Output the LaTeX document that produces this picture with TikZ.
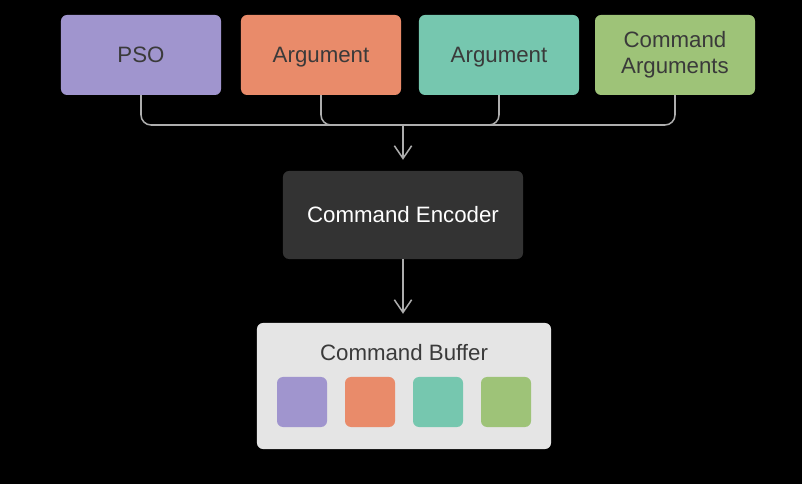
\documentclass[tikz,border=0pt]{standalone}
\usepackage{fontspec}
\setmainfont{Liberation Sans}
\usetikzlibrary{arrows.meta}
\definecolor{psoc}{HTML}{A095CE}
\definecolor{argac}{HTML}{E98B6A}
\definecolor{argbc}{HTML}{76C7AF}
\definecolor{cargc}{HTML}{9EC378}
\definecolor{encc}{HTML}{333333}
\definecolor{bufc}{HTML}{E5E5E5}
\definecolor{txtc}{HTML}{3A3A3A}
\definecolor{linec}{HTML}{ADADAD}
\begin{document}
\begin{tikzpicture}[x=0.03cm, y=-0.03cm,
  box/.style={rounded corners=0.18cm, minimum width=4.8cm, minimum height=2.4cm,
    text=txtc, align=center, font=\fontsize{19}{22}\selectfont},
  oneline/.style={text height=13.6pt, text depth=0pt},
  chip/.style={rounded corners=0.18cm, minimum width=1.5cm, minimum height=1.5cm},
  link/.style={draw=linec, line width=1.3pt, rounded corners=0.3cm},
  arr/.style={draw=linec, line width=1.3pt, -{Straight Barb[length=0.38cm, width=0.52cm]}}]
\fill[black] (0,0) rectangle (802,484);
\useasboundingbox (0,0) rectangle (802,484);
\node[box, oneline, fill=psoc] (pso) at (141,55){PSO};
\node[box, oneline, fill=argac] (arga) at (321,55){Argument};
\node[box, oneline, fill=argbc] (argb) at (499,55){Argument};
\node[box, fill=cargc] (carg) at (675,55){Command\\Arguments};
\coordinate (join) at (403,125);
\draw[link](pso.south) |- (join);
\draw[link](arga.south) |- (join);
\draw[link](argb.south) |- (join);
\draw[link](carg.south) |- (join);
\node[box, oneline, fill=encc, text=white, minimum width=7.2cm, minimum height=2.64cm] (enc) at (403,215){Command Encoder};
\draw[arr, shorten >=0.33cm](join) -- (enc.north);
\node[box, fill=bufc, minimum width=8.82cm, minimum height=3.78cm] (buf) at (404,386){};
\node[text=txtc, font=\fontsize{19}{22}\selectfont, oneline] (buftitle) at (404,353){Command Buffer};
\draw[arr, shorten >=0.27cm](enc.south) -- (enc.south |- buf.north);
\node[chip, fill=psoc] (c0) at (302,402){};
\node[chip, fill=argac] (c1) at (370,402){};
\node[chip, fill=argbc] (c2) at (438,402){};
\node[chip, fill=cargc] (c3) at (506,402){};

\end{tikzpicture}
\end{document}
